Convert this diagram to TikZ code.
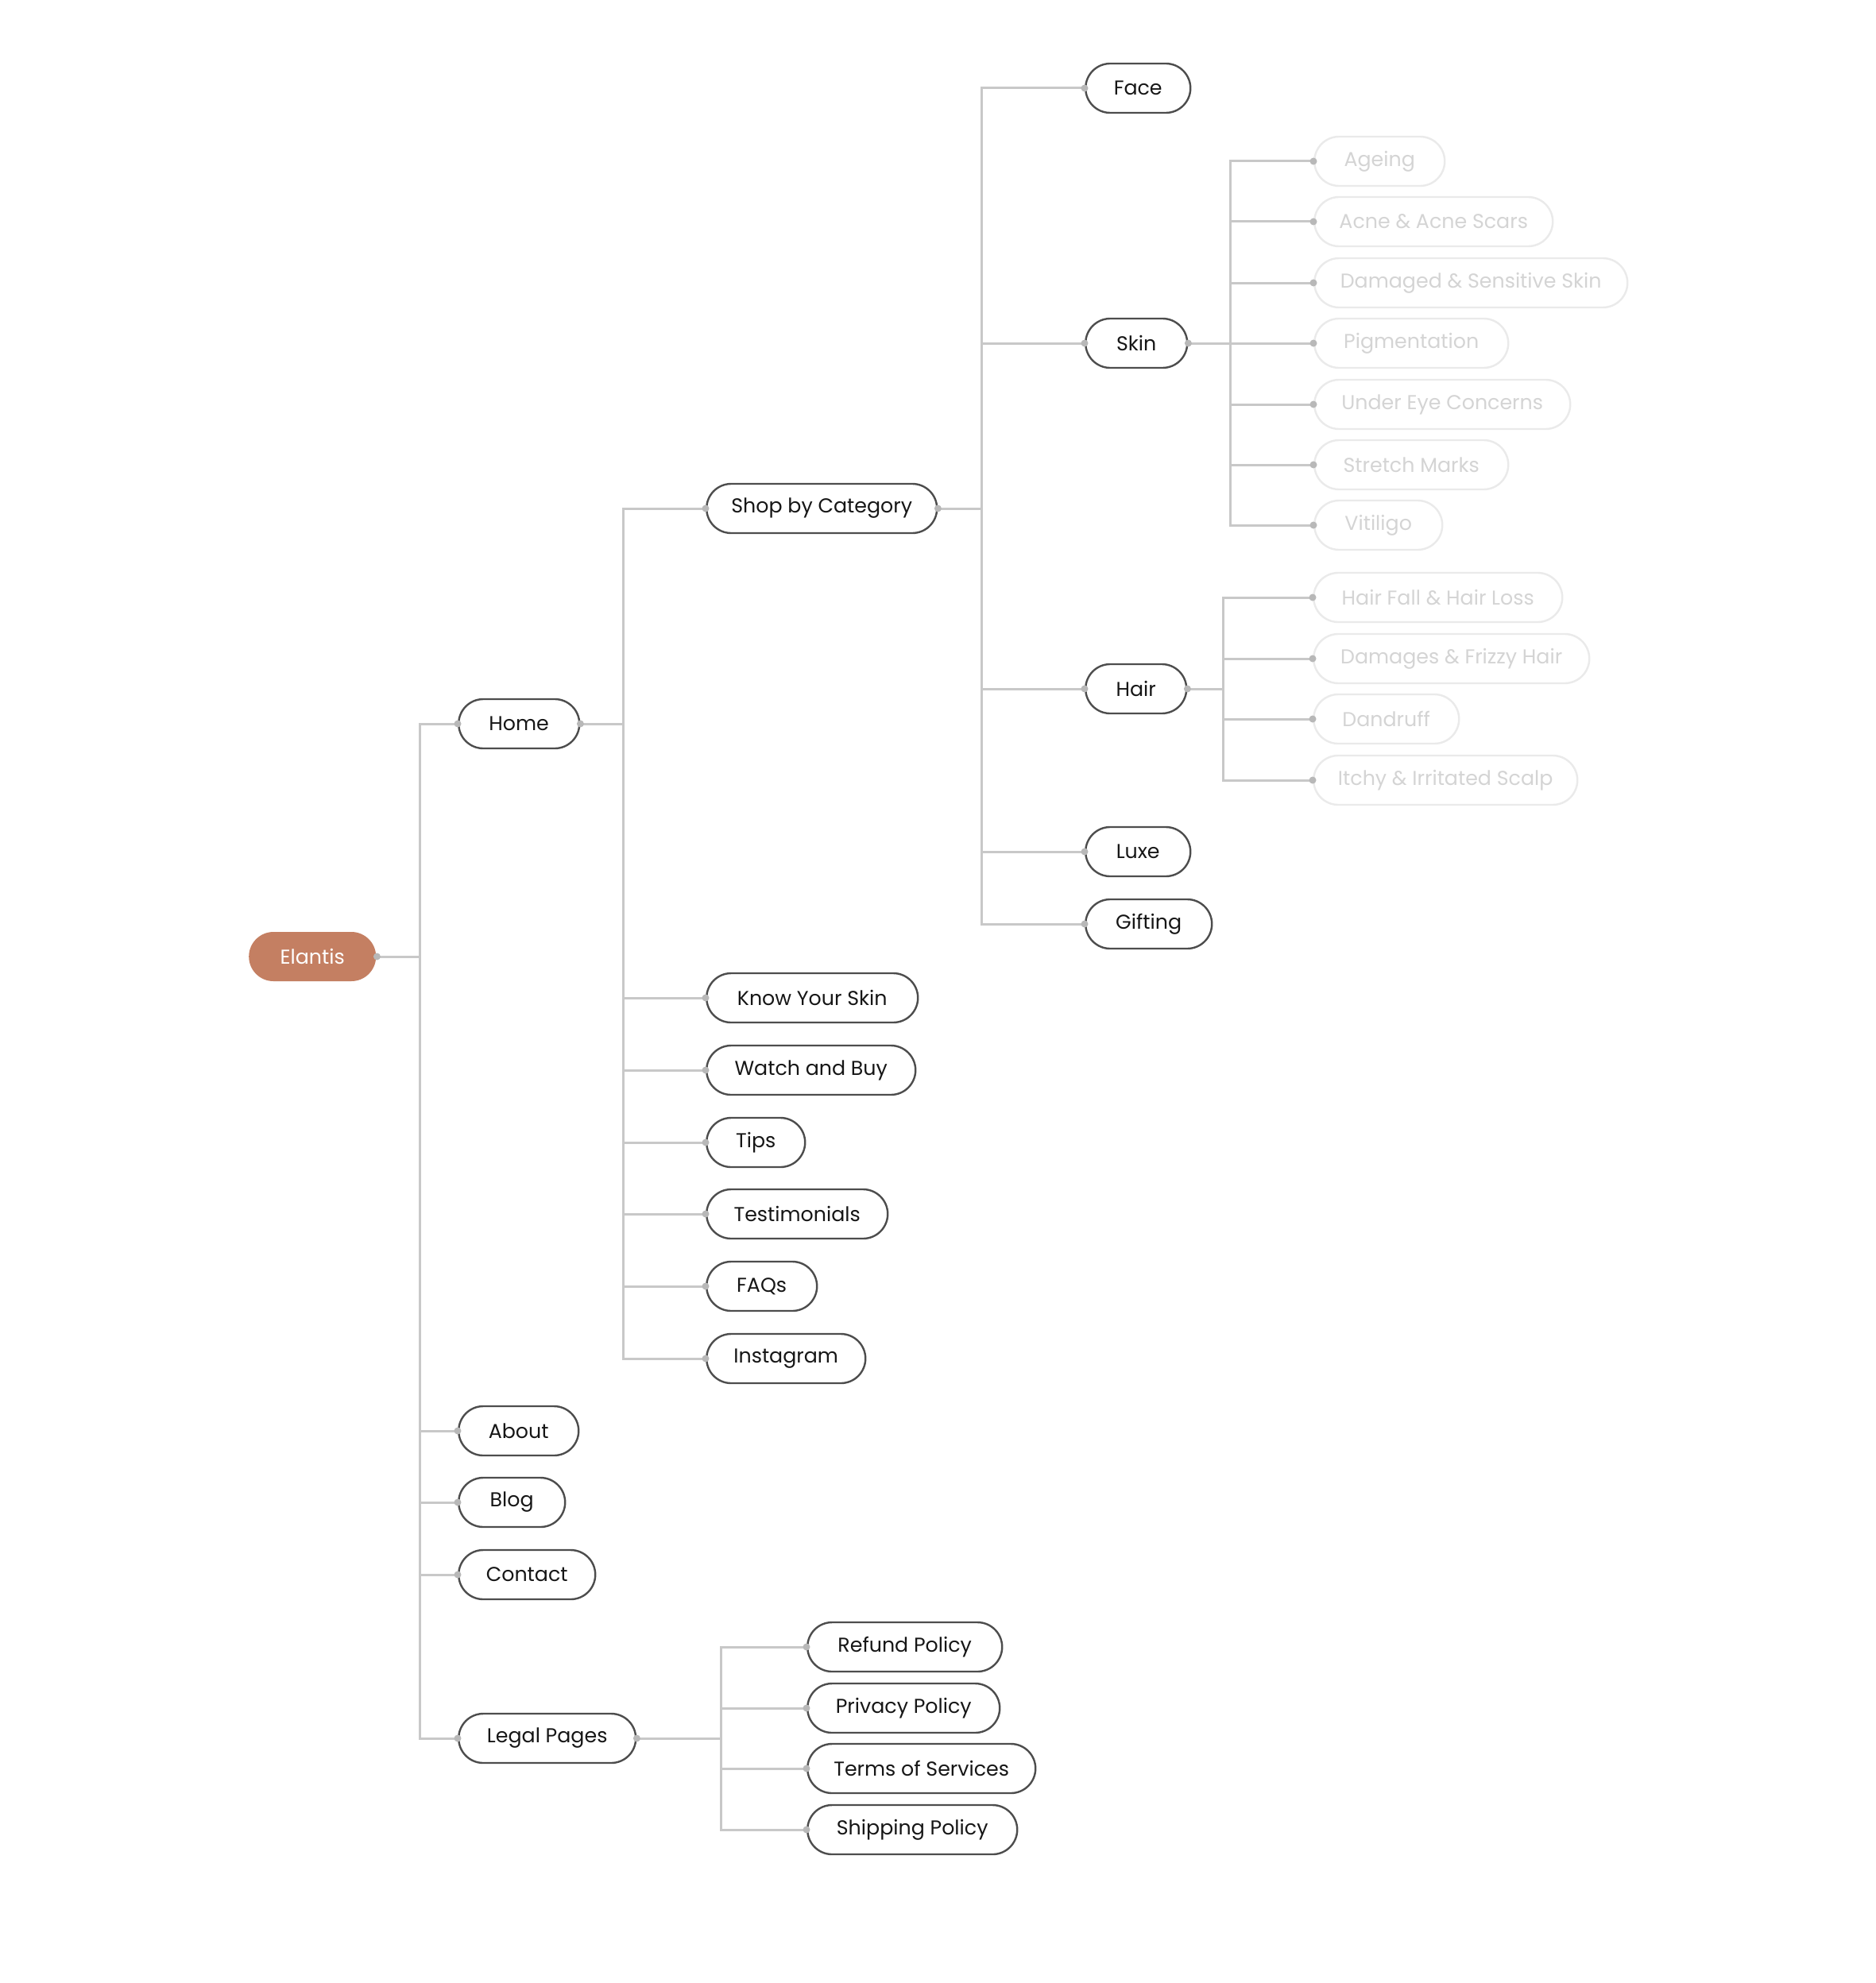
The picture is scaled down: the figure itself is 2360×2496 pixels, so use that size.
\documentclass[tikz,border=0pt]{standalone}
\usepackage{fontspec}
\setmainfont{Poppins}
\definecolor{elan}{HTML}{C47F62}
\definecolor{edge}{HTML}{C8C8C8}
\definecolor{bord}{HTML}{4D4D4D}
\definecolor{txt}{HTML}{161616}
\definecolor{fbord}{HTML}{EAEAEA}
\definecolor{ftxt}{HTML}{D4D4D4}
\definecolor{dotc}{HTML}{B8B8B8}
\newcommand\link[3]{\draw[conn] (#1.east) -- (#1.east -| #2) |- (#3.west);}
\begin{document}
\begin{tikzpicture}[x=1pt,y=-1pt,
 box/.style={draw=bord, line width=2.4pt, rounded corners=31pt, minimum height=62pt, anchor=west, inner sep=0pt, text=txt, font=\fontsize{25.3}{30}\selectfont, fill=white},
 fbox/.style={box, draw=fbord, text=ftxt},
 root/.style={box, draw=none, fill=elan, text=white},
 conn/.style={draw=edge, line width=3pt},
]
\useasboundingbox[fill=white] (0,0) rectangle (2360,2496);

% bar coordinates
\coordinate (bE) at (528,0);
\coordinate (bH) at (784,0);
\coordinate (bS) at (1235,0);
\coordinate (bK) at (1548,0);
\coordinate (bR) at (1539,0);
\coordinate (bL) at (907,0);

% nodes
\node[root, minimum width=160pt] (elantis) at (312,1204) {Elantis};
\node[box, minimum width=152pt] (home) at (576,911) {Home};
\node[box, minimum width=290pt] (shop) at (888,640) {Shop by Category};
\node[box, minimum width=132pt] (face) at (1365,111) {Face};
\node[box, minimum width=128pt] (skin) at (1365,432) {Skin};
\node[box, minimum width=127pt] (hair) at (1365,867) {Hair};
\node[box, minimum width=132pt] (luxe) at (1365,1072) {Luxe};
\node[box, minimum width=159pt] (gifting) at (1365,1163) {Gifting};

\node[fbox, minimum width=164pt] (ageing) at (1653,203) {Ageing};
\node[fbox, minimum width=300pt] (acne) at (1653,279) {Acne \& Acne Scars};
\node[fbox, minimum width=394pt] (damaged) at (1653,356) {Damaged \& Sensitive Skin};
\node[fbox, minimum width=244pt] (pigment) at (1653,432) {Pigmentation};
\node[fbox, minimum width=322pt] (undereye) at (1653,509) {Under Eye Concerns};
\node[fbox, minimum width=244pt] (stretch) at (1653,585) {Stretch Marks};
\node[fbox, minimum width=161pt] (vitiligo) at (1653,661) {Vitiligo};

\node[fbox, minimum width=313pt] (hairfall) at (1652,752) {Hair Fall \& Hair Loss};
\node[fbox, minimum width=347pt] (frizzy) at (1652,829) {Damages \& Frizzy Hair};
\node[fbox, minimum width=183pt] (dandruff) at (1652,905) {Dandruff};
\node[fbox, minimum width=332pt] (itchy) at (1652,982) {Itchy \& Irritated Scalp};

\node[box, minimum width=266pt] (kys) at (888,1256) {Know Your Skin};
\node[box, minimum width=263pt] (watch) at (888,1347) {Watch and Buy};
\node[box, minimum width=124pt] (tips) at (888,1438) {Tips};
\node[box, minimum width=228pt] (testi) at (888,1528) {Testimonials};
\node[box, minimum width=139pt] (faqs) at (888,1619) {FAQs};
\node[box, minimum width=200pt] (insta) at (888,1710) {Instagram};

\node[box, minimum width=151pt] (about) at (576,1801) {About};
\node[box, minimum width=134pt] (blog) at (576,1891) {Blog};
\node[box, minimum width=172pt] (contact) at (576,1982) {Contact};
\node[box, minimum width=223pt] (legal) at (576,2188) {Legal Pages};

\node[box, minimum width=245pt] (refund) at (1015,2073) {Refund Policy};
\node[box, minimum width=242pt] (privacy) at (1015,2150) {Privacy Policy};
\node[box, minimum width=287pt] (terms) at (1015,2226) {Terms of Services};
\node[box, minimum width=264pt] (shipping) at (1015,2303) {Shipping Policy};

% connectors
\foreach \c in {home,about,blog,contact,legal} {\link{elantis}{bE}{\c}}
\foreach \c in {shop,kys,watch,tips,testi,faqs,insta} {\link{home}{bH}{\c}}
\foreach \c in {face,skin,hair,luxe,gifting} {\link{shop}{bS}{\c}}
\foreach \c in {ageing,acne,damaged,pigment,undereye,stretch,vitiligo} {\link{skin}{bK}{\c}}
\foreach \c in {hairfall,frizzy,dandruff,itchy} {\link{hair}{bR}{\c}}
\foreach \c in {refund,privacy,terms,shipping} {\link{legal}{bL}{\c}}

% dots
\foreach \n in {elantis,home,shop,skin,hair,legal} {\fill[dotc] (\n.east) circle[radius=4.5pt];}
\foreach \n in {home,about,blog,contact,legal,shop,kys,watch,tips,testi,faqs,insta,face,skin,hair,luxe,gifting,ageing,acne,damaged,pigment,undereye,stretch,vitiligo,hairfall,frizzy,dandruff,itchy,refund,privacy,terms,shipping} {\fill[dotc] (\n.west) circle[radius=4.5pt];}
\end{tikzpicture}
\end{document}
